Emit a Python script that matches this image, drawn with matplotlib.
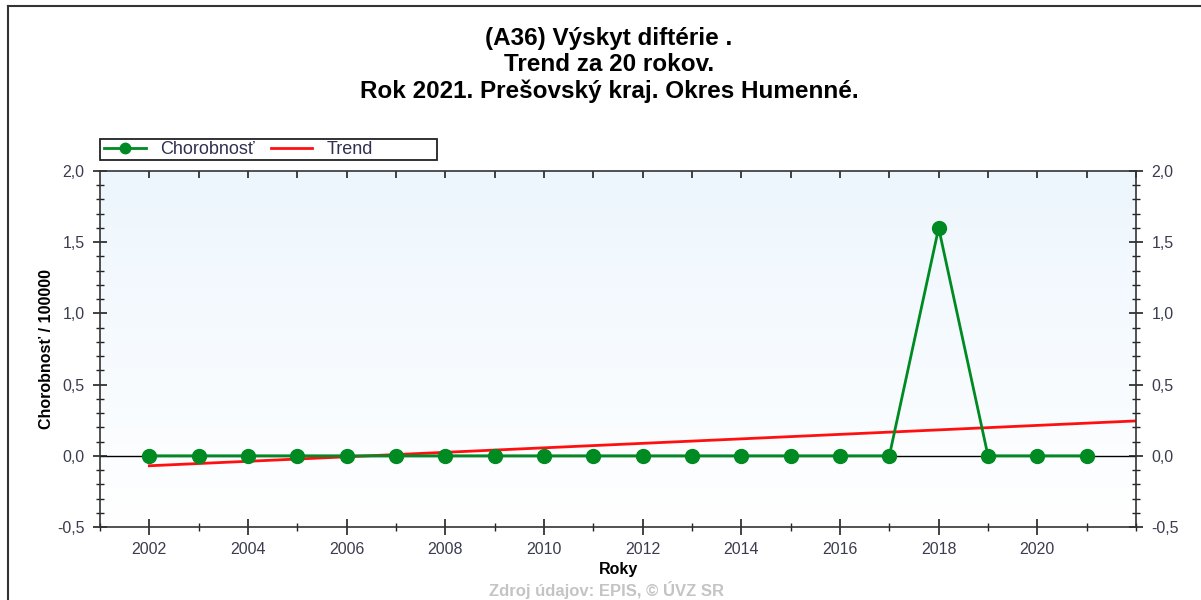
import matplotlib
matplotlib.use("Agg")
import matplotlib.pyplot as plt
import numpy as np
from matplotlib.lines import Line2D
from matplotlib.patches import Rectangle
from matplotlib.ticker import MultipleLocator, FuncFormatter, FixedLocator

plt.rcParams['font.family'] = ['Liberation Sans', 'DejaVu Sans']

# data
years = [2002, 2003, 2004, 2005, 2006, 2007, 2008, 2009, 2010, 2011,
         2012, 2013, 2014, 2015, 2016, 2017, 2018, 2019, 2020, 2021]
morbidity = [0, 0, 0, 0, 0, 0, 0, 0, 0, 0,
             0, 0, 0, 0, 0, 0, 1.6, 0, 0, 0]
trend_years = [2002, 2022]
trend_vals = [-0.07, 0.245]
xtick_years = [2002, 2004, 2006, 2008, 2010, 2012, 2014, 2016, 2018, 2020]

title = "(A36) Výskyt diftérie .\nTrend za 20 rokov.\nRok 2021. Prešovský kraj. Okres Humenné."

green = '#008A22'
tick_col = '#3c3c50'

fig = plt.figure(figsize=(12.01, 6.0), dpi=100)
ax = fig.add_axes([100/1201, 1-527/600, 1036/1201, 356/600])

# light blue -> white background gradient
grad = np.linspace(0, 1, 256).reshape(-1, 1, 1)
top = np.array([0.93, 0.965, 0.995])
img = 1 + (top - 1) * grad * np.ones((1, 1, 3))
ax.imshow(np.clip(img, 0, 1), extent=[0, 1, 0, 1], transform=ax.transAxes,
          aspect='auto', zorder=0, origin='lower')

ax.axhline(0, color='black', lw=1.0, zorder=1)
ax.plot(trend_years, trend_vals, color='#ff1010', lw=2.0, zorder=2, label='Trend')
ax.plot(years, morbidity, color=green, lw=2.0, marker='o', markersize=10,
        zorder=3, label='Chorobnosť')

ax.set_xlim(2001, 2022)
ax.set_ylim(-0.5, 2.0)

ax.xaxis.set_major_locator(FixedLocator(xtick_years))
ax.xaxis.set_minor_locator(MultipleLocator(1))
ax.yaxis.set_major_locator(MultipleLocator(0.5))
ax.yaxis.set_minor_locator(MultipleLocator(0.1))
ax.yaxis.set_major_formatter(FuncFormatter(lambda v, p: f"{v:.1f}".replace('.', ',')))
ax.xaxis.set_major_formatter(FuncFormatter(lambda v, p: f"{int(v)}"))

ax.tick_params(axis='y', which='both', direction='inout', left=True, right=True,
               labelleft=True, labelright=True, labelsize=11.5, labelcolor=tick_col,
               color='#222222', pad=6)
ax.tick_params(axis='y', which='major', length=10, width=1.2)
ax.tick_params(axis='y', which='minor', length=6, width=1.0)
ax.tick_params(axis='x', which='both', direction='inout', top=False, bottom=True,
               labelsize=11.5, labelcolor=tick_col, color='#222222', pad=5)
ax.tick_params(axis='x', which='major', length=11, width=1.2)
ax.tick_params(axis='x', which='minor', length=6, width=1.0)

sec = ax.secondary_xaxis('top')
sec.set_xticks(list(range(2002, 2023)))
sec.tick_params(axis='x', direction='in', length=5, width=1.2, color='#222222',
                labeltop=False)
sec.spines['top'].set_visible(False)

for s in ax.spines.values():
    s.set_color('#333333')
    s.set_linewidth(1.2)

ax.set_xlabel('Roky', fontsize=11.5, fontweight='bold', labelpad=4)
ax.set_ylabel('Chorobnosť / 100000', fontsize=11.5, fontweight='bold', labelpad=2)

h, l = ax.get_legend_handles_labels()
leg = fig.legend([h[1], h[0]], [l[1], l[0]], ncol=2, loc='center left',
                 bbox_to_anchor=(104/1201, 1-149.5/600), frameon=False,
                 fontsize=13, handlelength=2.3, columnspacing=0.9,
                 borderpad=0.0, handletextpad=0.8, borderaxespad=0,
                 markerscale=0.75)
for t in leg.get_texts():
    t.set_color('#303050')
fig.add_artist(Rectangle((100/1201, 1-160/600), 337/1201, 21/600,
                         transform=fig.transFigure, fill=False,
                         edgecolor='#222222', lw=1.3))

fig.text(0.507, 1-27/600, title, ha='center', va='top', fontsize=17.5,
         fontweight='bold', linespacing=1.17)
fig.text(0.505, 1/600, 'Zdroj údajov: EPIS, © ÚVZ SR', ha='center', va='bottom',
         fontsize=12, fontweight='bold', color='#c4c4c4')

# outer frame (top and left visible)
fig.add_artist(Line2D([8/1201, 1], [1-6/600, 1-6/600], transform=fig.transFigure,
                      color='#333333', lw=1.5))
fig.add_artist(Line2D([8/1201, 8/1201], [0, 1-6/600], transform=fig.transFigure,
                      color='#333333', lw=1.5))

fig.savefig('out.png', dpi=100)
